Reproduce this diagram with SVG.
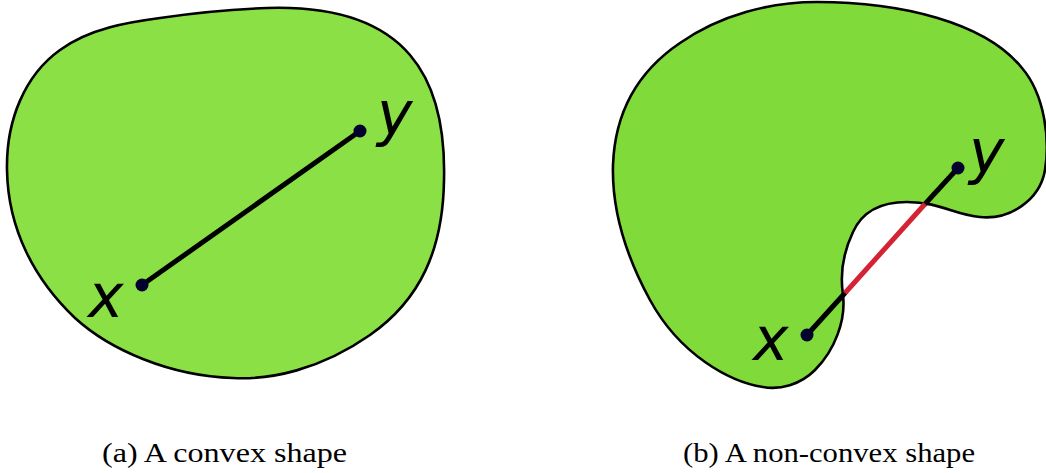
<svg xmlns="http://www.w3.org/2000/svg" width="1046" height="473" viewBox="0 0 1046 473">
<style>
.shape{stroke:#000;stroke-width:2.6;stroke-linejoin:round}
.seg{stroke:#000;stroke-width:5;stroke-linecap:round;fill:none}
.out{stroke:#d42335;stroke-width:5;fill:none}
.pt{fill:#02022e}
.lbl{font-family:"DejaVu Sans",sans-serif;font-style:italic;font-size:60px;fill:#000}
.cap{font-family:"Liberation Serif",serif;font-size:27px;fill:#000}
</style>
<rect width="1046" height="473" fill="#fff"/>
<g id="convex">
<path class="shape" fill="#8ae045" d="M267,8 C330,6 380,20 410,55 C440,90 445,140 444,180 C443,250 420,300 370,335 C320,370 270,380 233,378 C170,376 110,350 75,318 C35,280 8,230 7,170 C6,120 25,75 60,50 C90,28 130,22 160,18 C200,12 240,9 267,8 Z"/>
</g>
<g id="nonconvex">
<path class="shape" fill="#80da3a" d="M817,2 C900,2 985,22 1022,68 C1045,95 1050,140 1045,170 C1040,200 1010,220 980,217 C955,215 940,202 907,202 C880,202 862,212 853,232 C842,255 840,275 843,295 C846,320 835,350 815,370 C800,385 780,390 763,387 C730,382 680,355 650,300 C620,245 612,200 613,165 C615,110 640,70 680,43 C720,15 770,2 817,2 Z"/>
</g>
<g id="connectors">
<line class="seg" x1="142" y1="285" x2="360" y2="131"/>
<line class="seg" x1="807" y1="335" x2="845" y2="293"/>
<line class="seg" x1="925" y1="204" x2="958" y2="168"/>
<line class="out" x1="845" y1="293" x2="925" y2="204"/>
</g>
<g id="points">
<circle class="pt" cx="142" cy="285" r="6.5"/>
<circle class="pt" cx="360" cy="131" r="6.5"/>
<circle class="pt" cx="807" cy="335" r="6.5"/>
<circle class="pt" cx="958" cy="168" r="6.5"/>
</g>
<g id="labels">
<text class="lbl" x="88" y="317">x</text>
<text class="lbl" x="377" y="135">y</text>
<text class="lbl" x="753" y="360">x</text>
<text class="lbl" x="969" y="173">y</text>
</g>
<g id="captions">
<text class="cap" x="102" y="462" textLength="245" lengthAdjust="spacingAndGlyphs">(a) A convex shape</text>
<text class="cap" x="683" y="462" textLength="292" lengthAdjust="spacingAndGlyphs">(b) A non-convex shape</text>
</g>
</svg>
